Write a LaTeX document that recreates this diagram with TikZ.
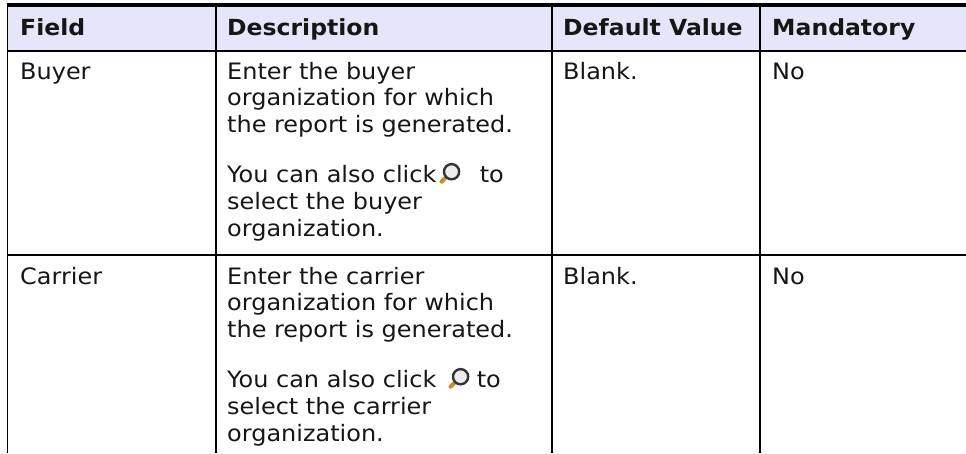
\documentclass[tikz,border=0pt]{standalone}
\usepackage{fontspec}
\setmainfont{DejaVu Sans}[FakeStretch=1.06]
\definecolor{hdr}{RGB}{230,230,250}
\definecolor{txtc}{RGB}{22,22,22}
\definecolor{handlec}{RGB}{200,140,40}
\definecolor{lensfill}{RGB}{236,236,236}
\newcommand{\lensicon}[1]{%
  \draw[handlec, line width=4pt, line cap=round] ([shift={(-6.5pt,-6.5pt)}]#1) -- ([shift={(-10pt,-10pt)}]#1);
  \draw[line width=2.4pt, draw=black!80, fill=lensfill] (#1) circle (7.6pt);
}
\begin{document}
\begin{tikzpicture}[x=1pt,y=-1pt,
  txt/.style={anchor=base west, inner sep=0pt, font=\fontsize{22.6}{27}\selectfont, text=txtc},
  hd/.style={txt, font=\fontsize{22.2}{27}\selectfont\bfseries}]
\useasboundingbox (0,0) rectangle (966,453);
% header band and rules
\fill[hdr] (7,5) rectangle (966,51);
\draw[line width=3.5pt] (6.5,5) -- (966,5);
\draw[line width=2pt] (6.5,51) -- (966,51);
\draw[line width=1.3pt] (7,255) -- (966,255);
\draw[line width=1.8pt] (7.5,3.25) -- (7.5,453);
\foreach \x in {216,552,760} \draw[line width=1.4pt] (\x,3.25) -- (\x,453);
% header
\node[hd] (hField) at (20,35.5) {Field};
\node[hd] (hDesc) at (227,35.5) {Description};
\node[hd] (hDef) at (563,35.5) {Default Value};
\node[hd] (hMand) at (772,35.5) {Mandatory};
% row 1
\node[txt] (f1) at (20,79) {Buyer};
\node[txt] (d1a) at (227,79) {Enter the buyer};
\node[txt] (d1b) at (227,105.7) {organization for which};
\node[txt] (d1c) at (227,132.4) {the report is generated.};
\node[txt] (d1d) at (227,182.7) {You can also click};
\coordinate (ic1) at ([xshift=15pt,yshift=11pt]d1d.base east);
\lensicon{ic1}
\node[txt] (d1e) at ([xshift=28pt,yshift=-11pt]ic1) {to};
\node[txt] (d1f) at (227,209.4) {select the buyer};
\node[txt] (d1g) at (227,236.1) {organization.};
\node[txt] (v1) at (563,79) {Blank.};
\node[txt] (m1) at (772,79) {No};
% row 2
\node[txt] (f2) at (20,284) {Carrier};
\node[txt] (d2a) at (227,284) {Enter the carrier};
\node[txt] (d2b) at (227,310.7) {organization for which};
\node[txt] (d2c) at (227,337.4) {the report is generated.};
\node[txt] (d2d) at (227,387.7) {You can also click};
\coordinate (ic2) at ([xshift=24pt,yshift=11pt]d2d.base east);
\lensicon{ic2}
\node[txt] (d2e) at ([xshift=16pt,yshift=-11pt]ic2) {to};
\node[txt] (d2f) at (227,414.4) {select the carrier};
\node[txt] (d2g) at (227,441.1) {organization.};
\node[txt] (v2) at (563,284) {Blank.};
\node[txt] (m2) at (772,284) {No};
\end{tikzpicture}
\end{document}
